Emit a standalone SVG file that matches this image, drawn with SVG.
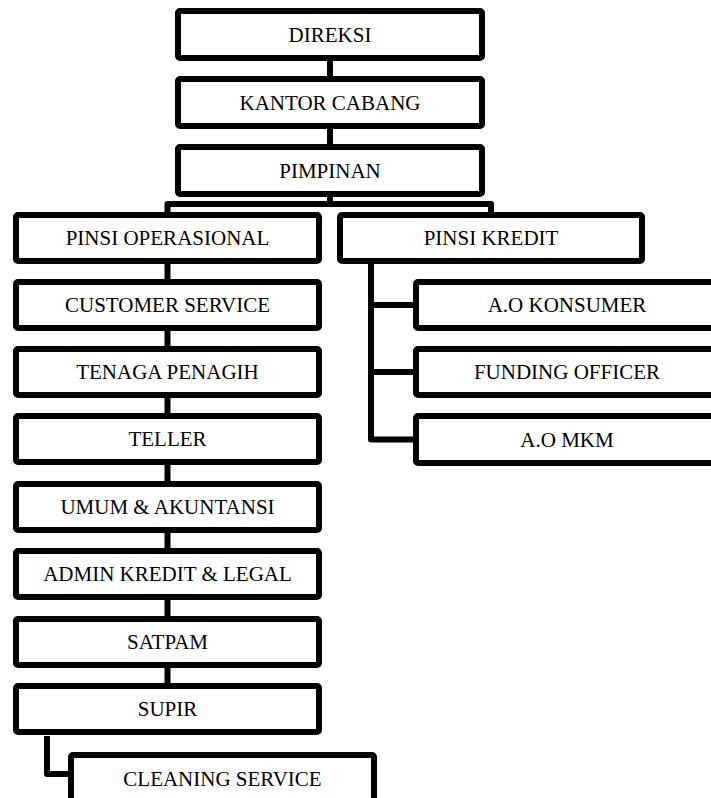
<svg xmlns="http://www.w3.org/2000/svg" width="711" height="798" viewBox="0 0 711 798">
<style>
.box{fill:#fff;stroke:#000;stroke-width:6;stroke-linejoin:round}
.con{fill:none;stroke:#000;stroke-width:6;stroke-linejoin:round}
.t{font-family:"Liberation Serif","Times New Roman",serif;font-size:21px;fill:#000;text-anchor:middle}
</style>
<rect x="0" y="0" width="711" height="798" fill="#fff"/>
<g id="connectors">
<path class="con" d="M330 61V76M330 129V144M330 196V204"/>
<path class="con" d="M167.5 212V204H491V212"/>
<path class="con" d="M167.5 263V683"/>
<path class="con" d="M47 736V774H68"/>
<path class="con" d="M371 263V439.5H413M371 305H413M371 372H413"/>
</g>
<g id="direksi"><rect class="box" x="178" y="11" width="304" height="47" rx="2"/><text class="t" x="330" y="42">DIREKSI</text></g>
<g id="kantor-cabang"><rect class="box" x="178" y="79" width="304" height="47" rx="2"/><text class="t" x="330" y="110">KANTOR CABANG</text></g>
<g id="pimpinan"><rect class="box" x="178" y="147" width="304" height="47" rx="2"/><text class="t" x="330" y="178">PIMPINAN</text></g>
<g id="pinsi-operasional"><rect class="box" x="16" y="215" width="303" height="46" rx="2"/><text class="t" x="167.5" y="245">PINSI OPERASIONAL</text></g>
<g id="customer-service"><rect class="box" x="16" y="282" width="303" height="46" rx="2"/><text class="t" x="167.5" y="312">CUSTOMER SERVICE</text></g>
<g id="tenaga-penagih"><rect class="box" x="16" y="349" width="303" height="46" rx="2"/><text class="t" x="167.5" y="379">TENAGA PENAGIH</text></g>
<g id="teller"><rect class="box" x="16" y="416" width="303" height="46" rx="2"/><text class="t" x="167.5" y="446">TELLER</text></g>
<g id="umum-akuntansi"><rect class="box" x="16" y="484" width="303" height="46" rx="2"/><text class="t" x="167.5" y="514">UMUM &amp; AKUNTANSI</text></g>
<g id="admin-kredit-legal"><rect class="box" x="16" y="551" width="303" height="46" rx="2"/><text class="t" x="167.5" y="581">ADMIN KREDIT &amp; LEGAL</text></g>
<g id="satpam"><rect class="box" x="16" y="619" width="303" height="46" rx="2"/><text class="t" x="167.5" y="649">SATPAM</text></g>
<g id="supir"><rect class="box" x="16" y="686" width="303" height="46" rx="2"/><text class="t" x="167.5" y="716">SUPIR</text></g>
<g id="cleaning-service"><rect class="box" x="71" y="755" width="303" height="47" rx="2"/><text class="t" x="222.5" y="786">CLEANING SERVICE</text></g>
<g id="pinsi-kredit"><rect class="box" x="340" y="215" width="302" height="46" rx="2"/><text class="t" x="491" y="245">PINSI KREDIT</text></g>
<g id="ao-konsumer"><rect class="box" x="416" y="282" width="302" height="46" rx="2"/><text class="t" x="567" y="312">A.O KONSUMER</text></g>
<g id="funding-officer"><rect class="box" x="416" y="349" width="302" height="46" rx="2"/><text class="t" x="567" y="379">FUNDING OFFICER</text></g>
<g id="ao-mkm"><rect class="box" x="416" y="416" width="302" height="47" rx="2"/><text class="t" x="567" y="447">A.O MKM</text></g>
</svg>
